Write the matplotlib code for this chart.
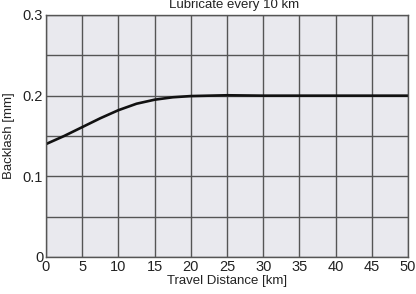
import matplotlib
matplotlib.use("Agg")
import matplotlib.pyplot as plt

plt.rcParams['font.family'] = ['Liberation Sans', 'DejaVu Sans']

# data
distance_km = [0, 2.5, 5, 7.5, 10, 12.5, 15, 17.5, 20, 22.5, 25, 30, 35, 40, 45, 50]
backlash_mm = [0.140, 0.150, 0.161, 0.172, 0.182, 0.190, 0.195, 0.198, 0.1995,
               0.200, 0.2005, 0.200, 0.200, 0.200, 0.200, 0.200]
x_ticks = [0, 5, 10, 15, 20, 25, 30, 35, 40, 45, 50]
y_ticks = [0, 0.05, 0.1, 0.15, 0.2, 0.25, 0.3]
y_labels = ['0', '', '0.1', '', '0.2', '', '0.3']

fig = plt.figure(figsize=(4.16, 2.94), dpi=100)
ax = fig.add_axes([46 / 416, 1 - 257 / 294, 362 / 416, 242 / 294])
ax.set_facecolor('#e9e9ee')

ax.plot(distance_km, backlash_mm, color='#111111', linewidth=1.9)

ax.set_xlim(0, 50)
ax.set_ylim(0, 0.3)
ax.set_xticks(x_ticks)
ax.set_yticks(y_ticks)
ax.set_yticklabels(y_labels)
ax.tick_params(length=0, labelsize=10.5, pad=2, colors='#222222')
ax.grid(True, color='#555555', linewidth=1.0)
ax.set_axisbelow(True)
for s in ax.spines.values():
    s.set_color('#555555')
    s.set_linewidth(1.0)

ax.set_xlabel('Travel Distance [km]', fontsize=9.5, labelpad=1, color='#222222')
ax.set_ylabel('Backlash [mm]', fontsize=9.5, labelpad=6, color='#222222')
fig.text(234 / 416, 1 - 5 / 294, 'Lubricate every 10 km', ha='center', va='center',
         fontsize=9.5, color='#222222')

fig.savefig('out.png', dpi=100)
